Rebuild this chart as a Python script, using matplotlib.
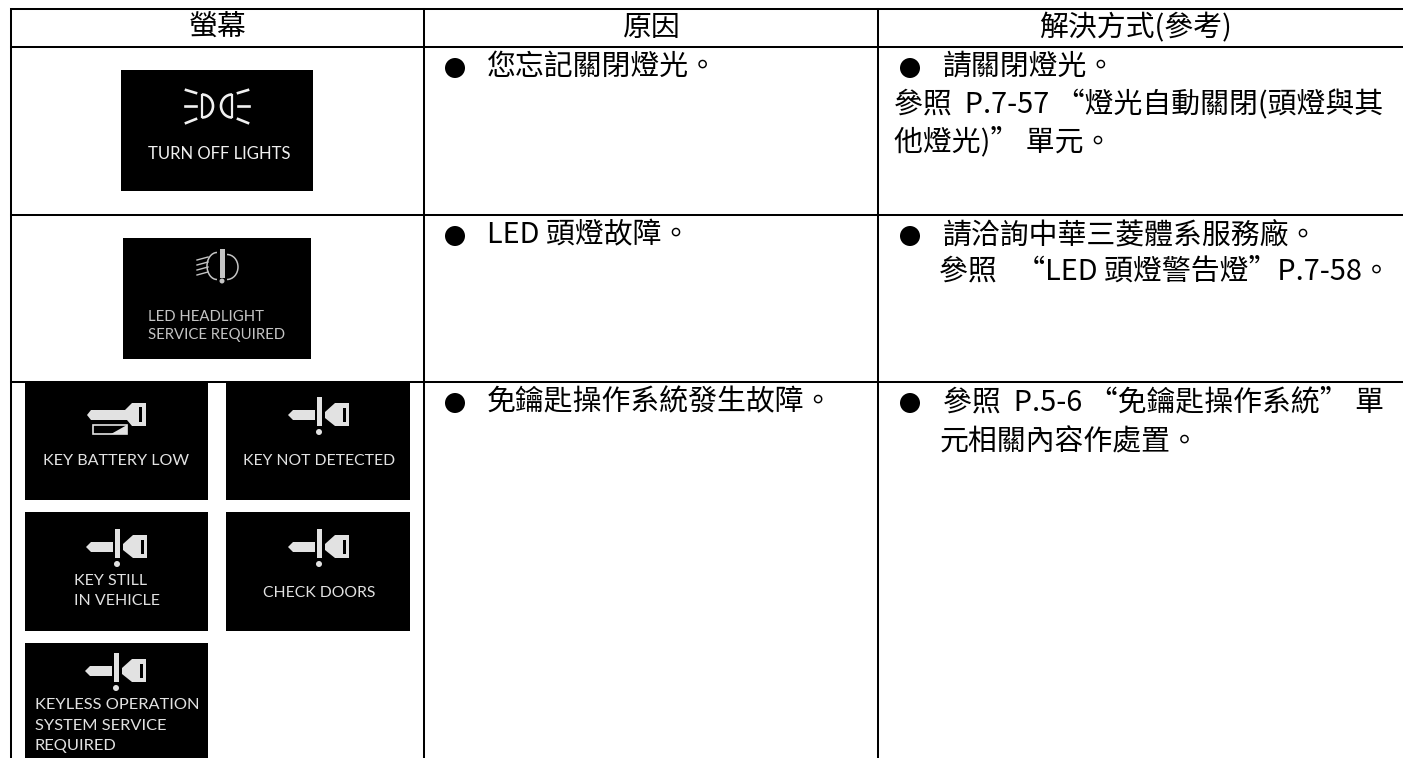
import matplotlib
matplotlib.use("Agg")
import matplotlib.pyplot as plt
from matplotlib.patches import Rectangle, Polygon, Circle, Arc
from matplotlib.lines import Line2D

plt.rcParams['font.family'] = ['Noto Sans CJK TC', 'DejaVu Sans']
W, H = 1403, 758

headers = ["螢幕", "原因", "解決方式(參考)"]
col_lines = [11, 424, 878]
row_lines = [9, 47, 215, 382]
header_x = [218, 652, 1135]
causes = [("您忘記關閉燈光。", 67), ("LED 頭燈故障。", 235), ("免鑰匙操作系統發生故障。", 402)]
solutions = [
    (943, 67, "請關閉燈光。", True),
    (894, 105, "參照  P.7-57 “燈光自動關閉(頭燈與其", False),
    (894, 142, "他燈光)” 單元。", False),
    (943, 235, "請洽詢中華三菱體系服務廠。", True),
    (939, 272, "參照   “LED 頭燈警告燈”P.7-58。", False),
    (943, 402, "參照  P.5-6 “免鑰匙操作系統” 單", True),
    (940, 442, "元相關內容作處置。", False),
]
# panel: left, top, right, bottom, label lines, label x, first line y, gap, font size, ha, icon, icon x, icon y
panels = [
    (121, 70, 313, 191, ["TURN OFF LIGHTS"], 219, 154, 0, 12.0, 'center', "lamp", 216, 106),
    (123, 238, 311, 359, ["LED HEADLIGHT", "SERVICE REQUIRED"], 148, 317, 18, 10.7, 'left', "warn", 222, 266),
    (25, 383, 208, 500, ["KEY BATTERY LOW"], 116, 461, 0, 11.6, 'center', "batt", 116, 415),
    (226, 383, 410, 500, ["KEY NOT DETECTED"], 319, 461, 0, 11.3, 'center', "key", 319, 415),
    (25, 512, 208, 631, ["KEY STILL", "IN VEHICLE"], 74, 581, 20, 11.5, 'left', "key", 117, 547),
    (226, 512, 410, 631, ["CHECK DOORS"], 319, 593, 0, 11.3, 'center', "key", 319, 547),
    (25, 643, 208, 758, ["KEYLESS OPERATION", "SYSTEM SERVICE", "REQUIRED"], 35, 705, 20.5, 11.8, 'left', "key", 116, 671),
]
label_fonts = ['Lato']

fig = plt.figure(figsize=(W / 100, H / 100), dpi=100)
ax = fig.add_axes([0, 0, 1, 1])
ax.set_xlim(0, W)
ax.set_ylim(H, 0)
ax.axis('off')

def draw_key(cx, cy, c):
    out = [
        Polygon([(cx-31, cy), (cx-26, cy-5), (cx-4, cy-5), (cx-4, cy+5), (cx-26, cy+5)], fc=c, ec='none'),
        Rectangle((cx-2, cy-18), 4.5, 29, fc=c, ec='none'),
        Circle((cx, cy+17), 3, fc=c, ec='none'),
        Polygon([(cx+6, cy-3), (cx+16, cy-12), (cx+30, cy-12), (cx+30, cy+11), (cx+16, cy+11), (cx+6, cy+3)], fc=c, ec='none'),
        Rectangle((cx+24, cy-7), 3, 14, fc='black', ec='none'),
    ]
    return out, []

def draw_batt(cx, cy, c):
    out = [
        Polygon([(cx-29, cy), (cx-25, cy-5), (cx+9, cy-5), (cx+16, cy-12), (cx+30, cy-12), (cx+30, cy+11),
                 (cx+16, cy+11), (cx+11, cy+5), (cx-25, cy+5)], fc=c, ec='none'),
        Rectangle((cx+23, cy-8), 3, 15, fc='black', ec='none'),
        Rectangle((cx-23, cy+10), 34, 9, fc='black', ec=c, lw=1.2),
        Polygon([(cx-5, cy+19), (cx+11, cy+10), (cx+11, cy+19)], fc=c, ec='none'),
    ]
    return out, []

def draw_lamp(cx, cy, c):
    out, lines = [], []
    for s in (-1, 1):
        fx = cx - 14 if s < 0 else cx + 16
        a = (270, 90) if s < 0 else (90, 270)
        out.append(Arc((fx, cy), 22, 23, theta1=a[0], theta2=a[1], ec=c, lw=1.9))
        lines.append(([fx, fx], [cy-11, cy+11], 1.6))
        o = cx + 1
        lines.append(([o + s*21, o + s*31], [cy-13, cy-16], 1.9))
        lines.append(([o + s*21, o + s*32], [cy, cy], 1.9))
        lines.append(([o + s*21, o + s*31], [cy+13, cy+17], 1.9))
    return out, lines

def draw_warn(cx, cy, c):
    out, lines = [], []
    for d in (-7, -2, 3, 8):
        lines.append(([cx-25, cx-14], [cy+d+1, cy+d-2], 1.0))
    out.append(Arc((cx-5, cy), 20, 27, theta1=90, theta2=270, ec=c, lw=1.1))
    out.append(Arc((cx+5, cy+1), 22, 25, theta1=270, theta2=90, ec=c, lw=1.1))
    out.append(Rectangle((cx-2, cy-17), 4.5, 29, fc=c, ec='none'))
    out.append(Circle((cx, cy+15), 2.5, fc=c, ec='none'))
    return out, lines

icon_draw = {"lamp": draw_lamp, "warn": draw_warn, "batt": draw_batt, "key": draw_key}

for l, t, r, b, lines, lx, ly, gap, size, ha, icon, cx, cy in panels:
    ax.add_patch(Rectangle((l, t), r-l, b-t, fc='black', ec='none', zorder=1))
    colour = '#f0f0f0' if icon == "lamp" else ('#c4c4c4' if icon == "warn" else '#e2e2e2')
    for i, s in enumerate(lines):
        ax.text(lx, ly + gap * i, s, color=colour, fontsize=size, family=label_fonts,
                ha=ha, va='center', zorder=3)
    patches, segs = icon_draw[icon](cx, cy, colour)
    for p in patches:
        p.set_zorder(2)
        ax.add_patch(p)
    for xs, ys, lw in segs:
        ax.add_line(Line2D(xs, ys, color=colour, lw=lw, zorder=2))

for y in row_lines:
    ax.add_line(Line2D([col_lines[0], W], [y, y], color='black', lw=1.45, zorder=5))
for x in col_lines:
    ax.add_line(Line2D([x, x], [row_lines[0], H], color='black', lw=1.45, zorder=5))

FS = 20.8
for s, x in zip(headers, header_x):
    ax.text(x, 28, s, fontsize=FS, ha='center', va='center', color='black')
for s, y in causes:
    ax.add_patch(Circle((455, y + 1), 10, fc='black', ec='none'))
    ax.text(487, y, s, fontsize=FS, ha='left', va='center', color='black')
for x, y, s, bul in solutions:
    if bul:
        ax.add_patch(Circle((910, y + 1), 10, fc='black', ec='none'))
    ax.text(x, y, s, fontsize=FS, ha='left', va='center', color='black')

fig.savefig("out.png", dpi=100)
